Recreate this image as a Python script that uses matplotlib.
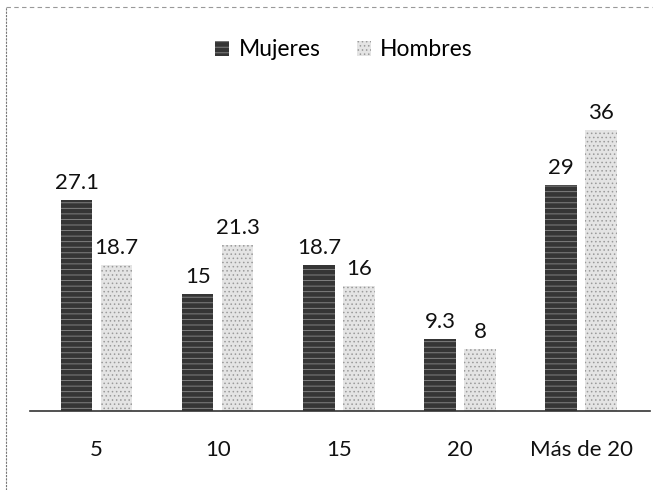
import matplotlib
matplotlib.use("Agg")
import matplotlib.pyplot as plt
from matplotlib.patches import Patch
from matplotlib.lines import Line2D
import numpy as np

categories = ["5", "10", "15", "20", "Más de 20"]
mujeres = [27.1, 15, 18.7, 9.3, 29]
hombres = [18.7, 21.3, 16, 8, 36]

plt.rcParams['font.family'] = ['Lato', 'DejaVu Sans']
plt.rcParams['hatch.linewidth'] = 0.6

fig = plt.figure(figsize=(6.59, 4.90), dpi=100)
ax = fig.add_axes([0.0455, 0.161, 0.941, 0.637])

x = np.arange(len(categories))
w = 0.26
off = 0.165

b1 = ax.bar(x - off, mujeres, w, color="#353535", edgecolor="#8c8c8c",
            hatch="---", linewidth=0)
b2 = ax.bar(x + off, hombres, w, color="#e4e4e4", edgecolor="#9a9a9a",
            hatch="....", linewidth=0)

for bars, vals in ((b1, mujeres), (b2, hombres)):
    for r, v in zip(bars, vals):
        lab = ("%g" % v)
        ax.annotate(lab, (r.get_x() + r.get_width() / 2, v),
                    xytext=(0, 5), textcoords="offset points",
                    ha="center", va="bottom", fontsize=16, color="#111111")

ax.set_xlim(-0.55, 4.57)
ax.set_ylim(0, 40)
ax.set_xticks(x)
ax.set_xticklabels(categories, fontsize=16, color="#111111")
ax.tick_params(axis="x", length=0, pad=21)
ax.set_yticks([])
for s in ["top", "right", "left"]:
    ax.spines[s].set_visible(False)
ax.spines["bottom"].set_color("#333333")
ax.spines["bottom"].set_linewidth(1.2)

handles = [Patch(facecolor="#353535", edgecolor="#8c8c8c", hatch="---", linewidth=0),
           Patch(facecolor="#e4e4e4", edgecolor="#9a9a9a", hatch="....", linewidth=0)]
fig.legend(handles, ["Mujeres", "Hombres"], loc="center", bbox_to_anchor=(0.522, 0.898),
           ncol=2, frameon=False, fontsize=16.5, handlelength=0.6, handleheight=0.6,
           handletextpad=0.4, columnspacing=1.6)

# scanned page border (left and top)
fig.add_artist(Line2D([0.009, 0.009], [0.0, 0.985], transform=fig.transFigure,
                      color="#777777", linewidth=0.8, linestyle=(0, (2, 1))))
fig.add_artist(Line2D([0.009, 0.99], [0.985, 0.985], transform=fig.transFigure,
                      color="#999999", linewidth=0.8, linestyle=(0, (4, 3))))

fig.savefig("out.png", dpi=100)
